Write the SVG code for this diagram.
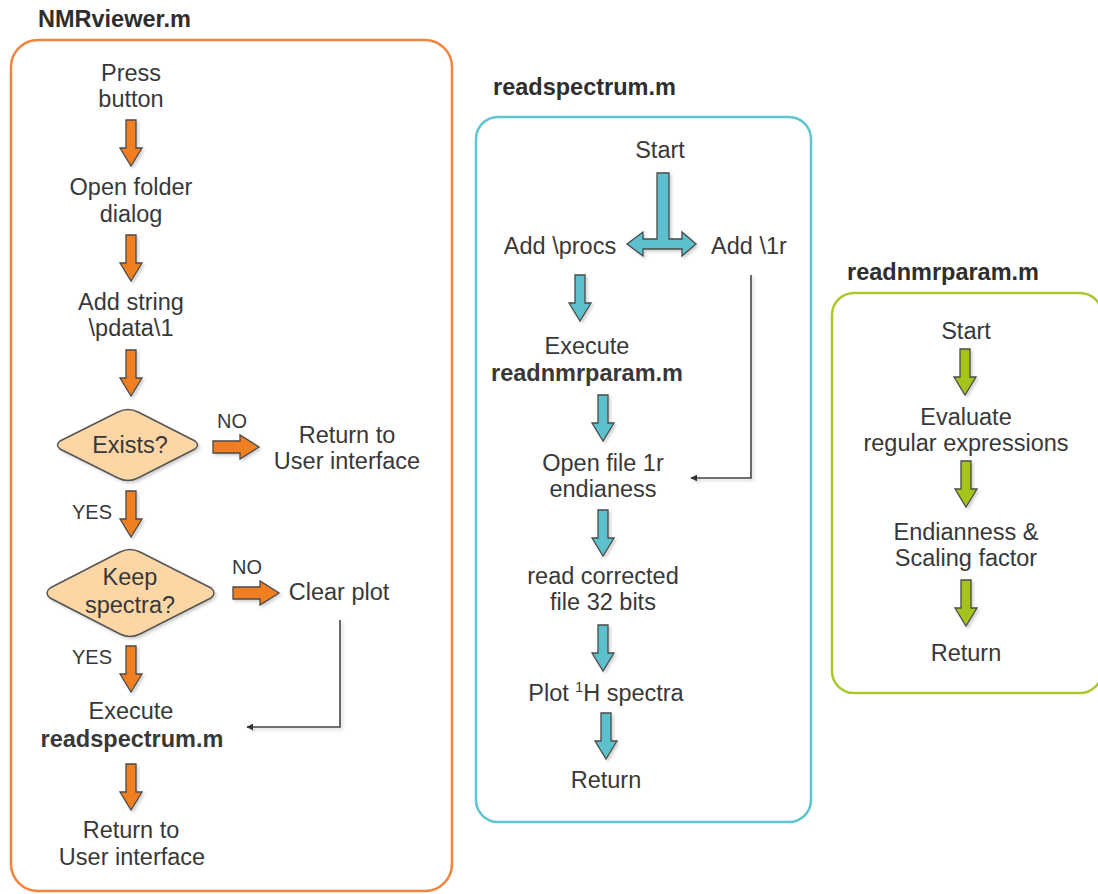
<svg xmlns="http://www.w3.org/2000/svg" xmlns:xlink="http://www.w3.org/1999/xlink" width="1098" height="894" viewBox="0 0 1098 894">
<style>
text{font-family:"Liberation Sans",Arial,sans-serif;font-size:23.5px;fill:#383838;text-anchor:middle}
.title{font-weight:bold;text-anchor:start;fill:#2e2e2e}
.b{font-weight:bold}
.lbl{font-size:20px}
.box{fill:#fff;stroke-width:2.5}
.arr{stroke:#4a4a4a;stroke-width:1.3;stroke-linejoin:miter;filter:url(#sh)}
.o{fill:#f07f22}
.c{fill:#5cc0cd}
.g{fill:#a4c41c}
.dia{fill:#fdd6a6;stroke:#555;stroke-width:1.5;filter:url(#sh)}
.con{fill:none;stroke:#444;stroke-width:1.6;marker-end:url(#tri);filter:url(#sh)}
</style>
<defs>
<filter id="sh" x="-20%" y="-20%" width="150%" height="150%">
<feDropShadow dx="2" dy="2" stdDeviation="1.5" flood-color="#000" flood-opacity="0.18"/>
</filter>
<marker id="tri" viewBox="0 0 10 10" refX="9" refY="5" markerWidth="7" markerHeight="7" markerUnits="userSpaceOnUse" orient="auto">
<path d="M0,0 L10,5 L0,10 z" fill="#333"/>
</marker>
<path id="ad" d="M-5,0 h10 v28 h6 l-11,18 l-11,-18 h6 z"/>
<path id="ar" d="M0,-6 h27 v-6 l19,12 l-19,12 v-6 h-27 z"/>
</defs>

<g id="nmrviewer">
<text class="title" x="38" y="27">NMRviewer.m</text>
<rect class="box" x="11" y="40" width="441" height="851" rx="27" stroke="#f3843f"/>
</g>
<g id="readspectrum">
<text class="title" x="493" y="95">readspectrum.m</text>
<rect class="box" x="476" y="117" width="335" height="705" rx="22" stroke="#5ec5d2"/>
</g>
<g id="readnmrparam">
<text class="title" x="847" y="280">readnmrparam.m</text>
<rect class="box" x="832" y="293" width="270" height="400" rx="22" stroke="#a9c92f"/>
</g>

<g id="n-press"><text x="131" y="81">Press</text><text x="131" y="107">button</text></g>
<g id="n-open"><text x="131" y="195">Open folder</text><text x="131" y="222">dialog</text></g>
<g id="n-add"><text x="131" y="310">Add string</text><text x="131" y="336">\pdata\1</text></g>
<g id="n-exists">
<path class="dia" d="M60,441 L118,412 Q128,407 138,412 L195,441 Q200,445 195,449 L138,478 Q128,483 118,478 L60,449 Q55,445 60,441 Z"/>
<text x="130" y="453">Exists?</text>
</g>
<g id="n-return1"><text x="347" y="443">Return to</text><text x="347" y="469">User interface</text></g>
<g id="n-keep">
<path class="dia" d="M50,588 L120,552 Q130,547 140,552 L211,588 Q217,593 211,598 L140,634 Q130,639 120,634 L50,598 Q44,593 50,588 Z"/>
<text x="130" y="585">Keep</text><text x="130" y="613">spectra?</text>
</g>
<g id="n-clear"><text x="339" y="600">Clear plot</text></g>
<g id="n-exec1"><text x="131" y="719">Execute</text><text class="b" x="132" y="747">readspectrum.m</text></g>
<g id="n-return2"><text x="131" y="838">Return to</text><text x="132" y="865">User interface</text></g>

<g id="s-start"><text x="660" y="158">Start</text></g>
<g id="s-procs"><text x="560" y="254">Add \procs</text></g>
<g id="s-1r"><text x="749" y="254">Add \1r</text></g>
<g id="s-exec"><text x="587" y="354">Execute</text><text class="b" x="587" y="381">readnmrparam.m</text></g>
<g id="s-open"><text x="603" y="471">Open file 1r</text><text x="603" y="497">endianess</text></g>
<g id="s-read"><text x="603" y="584">read corrected</text><text x="603" y="610">file 32 bits</text></g>
<g id="s-plot"><text x="606" y="701">Plot <tspan font-size="14" dy="-9">1</tspan><tspan dy="9">H spectra</tspan></text></g>
<g id="s-return"><text x="606" y="788">Return</text></g>

<g id="p-start"><text x="966" y="339">Start</text></g>
<g id="p-eval"><text x="966" y="425">Evaluate</text><text x="966" y="451">regular expressions</text></g>
<g id="p-end"><text x="966" y="540">Endianness &amp;</text><text x="966" y="566">Scaling factor</text></g>
<g id="p-return"><text x="966" y="661">Return</text></g>

<g id="connectors">
<use xlink:href="#ad" class="arr o" x="131" y="120"/>
<use xlink:href="#ad" class="arr o" x="131" y="235"/>
<use xlink:href="#ad" class="arr o" x="131" y="350"/>
<use xlink:href="#ar" class="arr o" x="213" y="447"/>
<use xlink:href="#ad" class="arr o" x="131" y="491"/>
<use xlink:href="#ar" class="arr o" x="233" y="593"/>
<use xlink:href="#ad" class="arr o" x="131" y="646"/>
<use xlink:href="#ad" class="arr o" x="131" y="764"/>
<path class="con" d="M340,620 V727 H247"/>
<text class="lbl" x="232" y="428">NO</text>
<text class="lbl" x="92" y="519">YES</text>
<text class="lbl" x="247" y="574">NO</text>
<text class="lbl" x="92" y="664">YES</text>

<path class="arr c" d="M657,173 H669 V239 H682 V232 L696,244 L682,256 V249 H643 V256 L627,244 L643,232 V239 H657 Z"/>
<use xlink:href="#ad" class="arr c" x="580" y="275"/>
<use xlink:href="#ad" class="arr c" x="603" y="395"/>
<use xlink:href="#ad" class="arr c" x="603" y="510"/>
<use xlink:href="#ad" class="arr c" x="603" y="625"/>
<use xlink:href="#ad" class="arr c" x="606" y="713"/>
<path class="con" d="M751,275 V478 H691"/>

<use xlink:href="#ad" class="arr g" x="965" y="349"/>
<use xlink:href="#ad" class="arr g" x="966" y="461"/>
<use xlink:href="#ad" class="arr g" x="966" y="580"/>
</g>
</svg>
